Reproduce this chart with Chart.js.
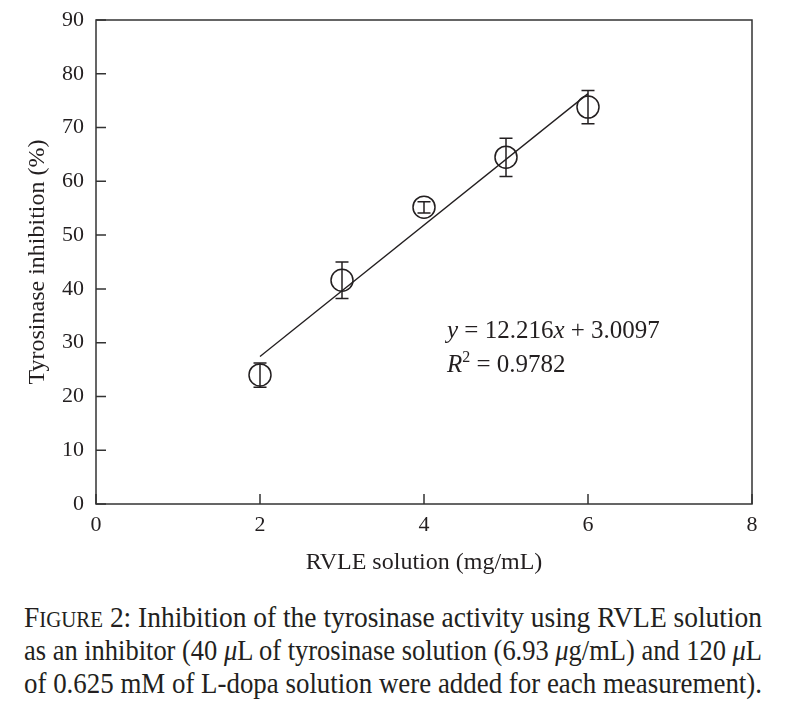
<!DOCTYPE html>
<html>
<head>
<meta charset="utf-8">
<script src="https://cdn.jsdelivr.net/npm/chart.js@4.4.1/dist/chart.umd.min.js"></script>
<style>
  body { margin: 0; background: #fff; }
  #wrap { position: absolute; left: 0; top: 0; width: 786px; height: 585px; }
  #caption {
    position: absolute; left: 24px; top: 601px; width: 738px;
    font-family: "Liberation Serif", serif; font-size: 29px; line-height: 33px;
    color: #231f20;
  }
  #caption div { white-space: nowrap; height: 33px; }
  #caption span.ln { display: inline-block; transform-origin: 0 0; }
  .sc { font-size: 0.76em; }
  i { font-style: italic; }
</style>
</head>
<body>
<div id="wrap"><canvas id="chart"></canvas></div>
<div id="caption">
  <div><span class="ln">F<span class="sc">IGURE</span> 2: Inhibition of the tyrosinase activity using RVLE solution</span></div>
  <div><span class="ln">as an inhibitor (40 <i>μ</i>L of tyrosinase solution (6.93 <i>μ</i>g/mL) and 120 <i>μ</i>L</span></div>
  <div><span class="ln">of 0.625 mM of L-dopa solution were added for each measurement).</span></div>
</div>
<script>
// measured points
const conc = [2, 3, 4, 5, 6];
const inhibition = [24.0, 41.6, 55.2, 64.5, 73.8];
const errLow = [21.7, 38.2, 54.1, 60.9, 70.7];
const errHigh = [26.2, 45.0, 56.2, 68.0, 76.9];
// fitted line y = 12.216x + 3.0097, ends at x = 2 and x = 6
const fitX = [2, 6];
const fitY = [27.44, 76.31];
const xTicks = [0, 2, 4, 6, 8];
const yTicks = [0, 10, 20, 30, 40, 50, 60, 70, 80, 90];

const serif = '"Liberation Serif", serif';
const ink = '#231f20';

// squeeze each caption line to the column width
document.querySelectorAll('#caption span.ln').forEach(s => {
  const w = s.getBoundingClientRect().width;
  s.style.transform = 'scaleX(' + (738 / w) + ')';
});

const frame = {
  id: 'frame',
  afterDraw(chart) {
    const {ctx, chartArea: a, scales} = chart;
    ctx.save();
    ctx.strokeStyle = '#333';
    ctx.lineWidth = 1.5;
    ctx.strokeRect(a.left, a.top, a.right - a.left, a.bottom - a.top);
    ctx.beginPath();
    yTicks.forEach(v => {
      const y = scales.y.getPixelForValue(v);
      ctx.moveTo(a.left, y); ctx.lineTo(a.left + 10, y);
    });
    xTicks.forEach(v => {
      const x = scales.x.getPixelForValue(v);
      ctx.moveTo(x, a.bottom); ctx.lineTo(x, a.bottom - 10);
    });
    ctx.stroke();
    ctx.restore();
  }
};

const errorBars = {
  id: 'errorBars',
  afterDatasetsDraw(chart) {
    const {ctx, scales} = chart;
    ctx.save();
    ctx.strokeStyle = ink;
    ctx.lineWidth = 1.5;
    ctx.beginPath();
    conc.forEach((c, i) => {
      const x = scales.x.getPixelForValue(c);
      const y1 = scales.y.getPixelForValue(errLow[i]);
      const y2 = scales.y.getPixelForValue(errHigh[i]);
      ctx.moveTo(x, y1); ctx.lineTo(x, y2);
      ctx.moveTo(x - 6.5, y1); ctx.lineTo(x + 6.5, y1);
      ctx.moveTo(x - 6.5, y2); ctx.lineTo(x + 6.5, y2);
    });
    ctx.stroke();
    ctx.restore();
  }
};

const equation = {
  id: 'equation',
  afterDraw(chart) {
    const {ctx, scales} = chart;
    const x0 = scales.x.getPixelForValue(4.28);
    const yA = scales.y.getPixelForValue(30.8);
    const yB = scales.y.getPixelForValue(24.5);
    ctx.save();
    ctx.fillStyle = ink;
    ctx.textBaseline = 'alphabetic';
    function run(parts, x, y) {
      parts.forEach(p => {
        ctx.font = (p.it ? 'italic ' : '') + p.size + 'px ' + serif;
        ctx.fillText(p.t, x, y + (p.dy || 0));
        x += ctx.measureText(p.t).width;
      });
    }
    run([
      {t: 'y', it: true, size: 25},
      {t: ' = 12.216', size: 25},
      {t: 'x', it: true, size: 25},
      {t: ' + 3.0097', size: 25}
    ], x0, yA);
    run([
      {t: 'R', it: true, size: 25},
      {t: '2', size: 16, dy: -10},
      {t: ' = 0.9782', size: 25}
    ], x0, yB);
    ctx.restore();
  }
};

new Chart(document.getElementById('chart'), {
  type: 'scatter',
  data: {
    datasets: [
      {
        label: 'measured',
        data: conc.map((c, i) => ({x: c, y: inhibition[i]})),
        pointStyle: 'circle',
        pointRadius: 11,
        pointBorderWidth: 1.5,
        pointBorderColor: ink,
        pointBackgroundColor: 'rgba(0,0,0,0)'
      },
      {
        label: 'fit',
        type: 'line',
        data: fitX.map((c, i) => ({x: c, y: fitY[i]})),
        borderColor: ink,
        borderWidth: 1.3,
        pointRadius: 0,
        fill: false
      }
    ]
  },
  options: {
    responsive: true,
    maintainAspectRatio: false,
    animation: false,
    devicePixelRatio: 1,
    layout: { padding: { top: 20, right: 34, left: 23, bottom: 0 } },
    plugins: { legend: { display: false }, tooltip: { enabled: false } },
    scales: {
      x: {
        type: 'linear', min: 0, max: 8,
        afterFit(s) { s.height = 81; s.paddingLeft = 0; s.paddingRight = 0; },
        afterBuildTicks(s) { s.ticks = xTicks.map(v => ({value: v})); },
        grid: { display: false, drawTicks: false },
        border: { display: false },
        ticks: { padding: 8, color: ink, font: { family: serif, size: 22 } },
        title: { display: true, text: 'RVLE solution (mg/mL)', color: ink,
                 padding: { top: 0, bottom: 8 }, font: { family: serif, size: 24 } }
      },
      y: {
        type: 'linear', min: 0, max: 90,
        afterFit(s) { s.width = 73; s.paddingTop = 0; s.paddingBottom = 0; },
        afterBuildTicks(s) { s.ticks = yTicks.map(v => ({value: v})); },
        grid: { display: false, drawTicks: false },
        border: { display: false },
        ticks: { padding: 12, color: ink, font: { family: serif, size: 22 } },
        title: { display: true, text: 'Tyrosinase inhibition (%)', color: ink,
                 padding: 0, font: { family: serif, size: 24 } }
      }
    }
  },
  plugins: [frame, errorBars, equation]
});
</script>
</body>
</html>
